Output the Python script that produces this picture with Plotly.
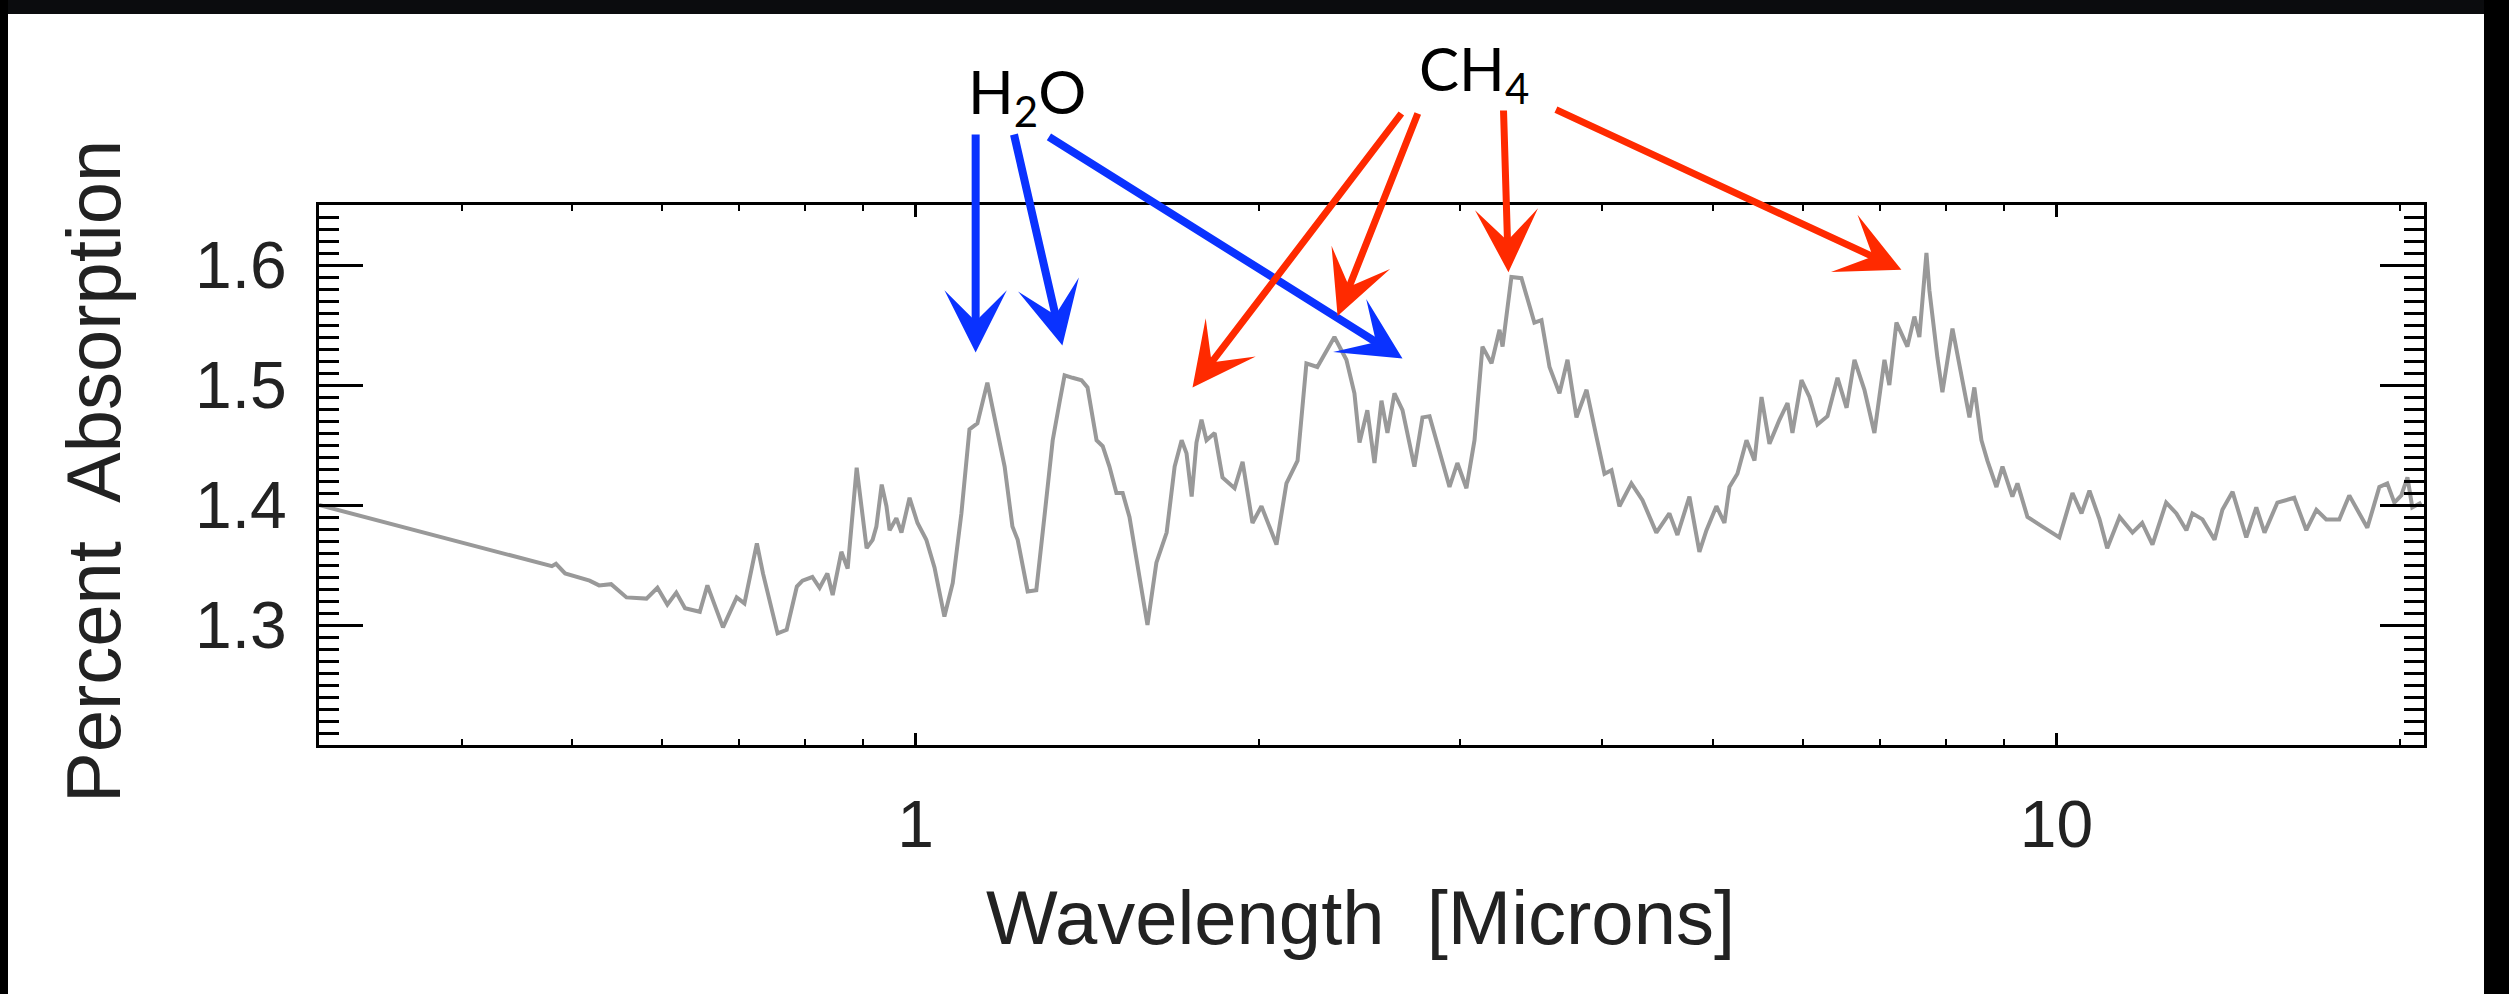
import numpy as np
import plotly.graph_objects as go

# ---------------- data ----------------
wavelength = [
    0.300, 0.468, 0.480, 0.484, 0.493, 0.518, 0.528, 0.541, 0.558, 0.581,
    0.594, 0.606, 0.617, 0.628, 0.647, 0.657, 0.678, 0.697, 0.708, 0.726,
    0.735, 0.757, 0.771, 0.787, 0.796, 0.812, 0.824, 0.837, 0.846, 0.861,
    0.872, 0.888, 0.906, 0.917, 0.924, 0.934, 0.943, 0.949, 0.962, 0.972,
    0.988, 1.004, 1.022, 1.039, 1.060, 1.078, 1.097, 1.115, 1.133, 1.156,
    1.178, 1.197, 1.216, 1.229, 1.254, 1.276, 1.297, 1.319, 1.337, 1.351,
    1.373, 1.398, 1.415, 1.441, 1.459, 1.479, 1.500, 1.519, 1.540, 1.572,
    1.597, 1.626, 1.660, 1.687, 1.711, 1.728, 1.746, 1.763, 1.781, 1.799,
    1.829, 1.858, 1.904, 1.935, 1.974, 2.010, 2.072, 2.114, 2.162, 2.201,
    2.250, 2.329, 2.386, 2.425, 2.450, 2.489, 2.525, 2.561, 2.592, 2.629,
    2.672, 2.737, 2.782, 2.822, 2.879, 2.938, 2.985, 3.040, 3.090, 3.140,
    3.198, 3.250, 3.270, 3.329, 3.397, 3.487, 3.537, 3.595, 3.668, 3.728,
    3.796, 3.874, 3.952, 4.017, 4.074, 4.140, 4.241, 4.337, 4.460, 4.579,
    4.654, 4.768, 4.865, 4.935, 5.035, 5.117, 5.169, 5.253, 5.350, 5.437,
    5.515, 5.604, 5.718, 5.812, 5.870, 5.978, 6.075, 6.174, 6.300, 6.429,
    6.548, 6.653, 6.788, 6.926, 7.068, 7.138, 7.241, 7.403, 7.508, 7.584,
    7.693, 7.739, 7.865, 7.945, 8.108, 8.222, 8.391, 8.474, 8.596, 8.700,
    8.860, 8.969, 9.150, 9.244, 9.433, 9.721, 10.06, 10.33, 10.52, 10.69,
    10.91, 11.08, 11.36, 11.66, 11.89, 12.14, 12.48, 12.74, 13.00, 13.16,
    13.43, 13.76, 13.98, 14.27, 14.67, 14.97, 15.22, 15.62, 16.16, 16.56,
    16.90, 17.24, 17.70, 18.06, 18.43, 18.73, 19.19, 19.50, 19.78, 20.06,
    20.31, 20.51, 20.89,
]
absorption = [
    1.400, 1.352, 1.349, 1.351, 1.343, 1.337, 1.333, 1.334, 1.323, 1.322,
    1.331, 1.317, 1.327, 1.314, 1.311, 1.333, 1.298, 1.323, 1.318, 1.368,
    1.343, 1.293, 1.296, 1.332, 1.337, 1.340, 1.331, 1.343, 1.325, 1.361,
    1.347, 1.431, 1.364, 1.371, 1.382, 1.417, 1.399, 1.379, 1.389, 1.377,
    1.406, 1.385, 1.371, 1.348, 1.307, 1.335, 1.393, 1.463, 1.468, 1.502,
    1.465, 1.432, 1.382, 1.371, 1.328, 1.329, 1.390, 1.454, 1.485, 1.508,
    1.506, 1.504, 1.498, 1.454, 1.449, 1.432, 1.410, 1.410, 1.390, 1.340,
    1.300, 1.352, 1.377, 1.432, 1.454, 1.443, 1.407, 1.452, 1.471, 1.454,
    1.460, 1.423, 1.414, 1.436, 1.385, 1.399, 1.367, 1.418, 1.437, 1.518,
    1.515, 1.540, 1.521, 1.493, 1.452, 1.479, 1.435, 1.487, 1.460, 1.493,
    1.479, 1.432, 1.473, 1.474, 1.446, 1.415, 1.435, 1.414, 1.454, 1.532,
    1.518, 1.546, 1.532, 1.590, 1.589, 1.552, 1.554, 1.515, 1.493, 1.521,
    1.473, 1.496, 1.457, 1.426, 1.429, 1.399, 1.418, 1.404, 1.377, 1.393,
    1.375, 1.407, 1.361, 1.379, 1.399, 1.385, 1.415, 1.426, 1.454, 1.437,
    1.490, 1.451, 1.471, 1.485, 1.460, 1.504, 1.490, 1.467, 1.474, 1.506,
    1.481, 1.521, 1.496, 1.460, 1.521, 1.500, 1.552, 1.532, 1.557, 1.540,
    1.610, 1.579, 1.523, 1.494, 1.547, 1.515, 1.473, 1.498, 1.454, 1.437,
    1.415, 1.432, 1.407, 1.418, 1.390, 1.382, 1.373, 1.410, 1.393, 1.412,
    1.388, 1.364, 1.390, 1.377, 1.385, 1.367, 1.402, 1.393, 1.379, 1.393,
    1.388, 1.371, 1.396, 1.411, 1.373, 1.398, 1.377, 1.402, 1.406, 1.379,
    1.396, 1.388, 1.388, 1.408, 1.393, 1.381, 1.415, 1.418, 1.402, 1.408,
    1.423, 1.398, 1.402,
]

x_tickvals = [1, 10]
x_ticktext = ["1", "10"]
x_minor = [0.4, 0.5, 0.6, 0.7, 0.8, 0.9, 2, 3, 4, 5, 6, 7, 8, 9, 20]
y_tickvals = [1.3, 1.4, 1.5, 1.6]
y_ticktext = ["1.3", "1.4", "1.5", "1.6"]

# arrow annotations (tip wavelength / absorption, tail wavelength / absorption)
h2o_tip_wl = [1.129, 1.345, 2.672]
h2o_tip_ab = [1.527, 1.533, 1.522]
h2o_tail_wl = [1.129, 1.219, 1.305]
h2o_tail_ab = [1.710, 1.710, 1.7075]
ch4_tip_wl = [1.749, 2.344, 3.309, 7.314]
ch4_tip_ab = [1.498, 1.5575, 1.594, 1.596]
ch4_tail_wl = [2.672, 2.759, 3.276, 3.631]
ch4_tail_ab = [1.7275, 1.7275, 1.730, 1.730]

# ---------------- layout geometry ----------------
W, H = 2509, 994
L, R, T, B = 319, 2424, 205, 745


def pxx(xp):
    return (xp - L) / (R - L)


def pxy(yp):
    return (B - yp) / (B - T)


fig = go.Figure()
fig.add_trace(go.Scatter(
    x=wavelength, y=absorption, mode="lines",
    line=dict(color="#999999", width=4), hoverinfo="skip", showlegend=False,
))

annotations = []
for tx, ty, sx, sy in zip(h2o_tip_wl, h2o_tip_ab, h2o_tail_wl, h2o_tail_ab):
    annotations.append(dict(
        x=np.log10(tx), y=ty, ax=np.log10(sx), ay=sy,
        xref="x", yref="y", axref="x", ayref="y", text="",
        showarrow=True, arrowhead=3, arrowsize=1.3, arrowwidth=8,
        arrowcolor="#0a32ff", standoff=0,
    ))
for tx, ty, sx, sy in zip(ch4_tip_wl, ch4_tip_ab, ch4_tail_wl, ch4_tail_ab):
    annotations.append(dict(
        x=np.log10(tx), y=ty, ax=np.log10(sx), ay=sy,
        xref="x", yref="y", axref="x", ayref="y", text="",
        showarrow=True, arrowhead=3, arrowsize=1.5, arrowwidth=7,
        arrowcolor="#ff2a00", standoff=0,
    ))

annotations += [
    dict(x=pxx(1027), y=pxy(96), xref="paper", yref="paper",
         text="H<sub>2</sub>O", showarrow=False,
         font=dict(family="Lato", size=60, color="black"),
         xanchor="center", yanchor="middle"),
    dict(x=pxx(1474), y=pxy(72), xref="paper", yref="paper",
         text="CH<sub>4</sub>", showarrow=False,
         font=dict(family="Lato", size=60, color="black"),
         xanchor="center", yanchor="middle"),
    dict(x=pxx(93), y=pxy(472), xref="paper", yref="paper",
         text="Percent  Absorption", showarrow=False, textangle=-90,
         font=dict(family="Liberation Sans", size=76, color="#222"),
         xanchor="center", yanchor="middle"),
    dict(x=pxx(1360), y=pxy(917), xref="paper", yref="paper",
         text="Wavelength  [Microns]", showarrow=False,
         font=dict(family="Liberation Sans", size=76, color="#222"),
         xanchor="center", yanchor="middle"),
]

shapes = [
    # black frame around the white panel
    dict(type="rect", xref="paper", yref="paper", x0=pxx(0), x1=pxx(W),
         y0=pxy(0), y1=pxy(14), fillcolor="#0b0c0e", line=dict(width=0), layer="above"),
    dict(type="rect", xref="paper", yref="paper", x0=pxx(0), x1=pxx(8),
         y0=pxy(0), y1=pxy(H), fillcolor="black", line=dict(width=0), layer="above"),
    dict(type="rect", xref="paper", yref="paper", x0=pxx(2484), x1=pxx(W),
         y0=pxy(0), y1=pxy(H), fillcolor="black", line=dict(width=0), layer="above"),
]

tickfont = dict(family="Liberation Sans", size=66, color="#222")

fig.update_layout(
    width=W, height=H,
    margin=dict(l=L, r=W - R, t=T, b=H - B, pad=0),
    paper_bgcolor="white", plot_bgcolor="white",
    showlegend=False,
    annotations=annotations, shapes=shapes,
    xaxis=dict(
        type="log", range=[np.log10(0.3), np.log10(21)],
        tickmode="array", tickvals=x_tickvals, ticktext=x_ticktext,
        ticks="inside", ticklen=12, tickwidth=2.5, tickcolor="black",
        showline=True, linecolor="black", linewidth=3, mirror="allticks",
        showgrid=False, zeroline=False, tickfont=tickfont,
        ticklabelstandoff=20,
        minor=dict(tickmode="array", tickvals=x_minor, ticks="inside",
                   ticklen=6, tickwidth=2, tickcolor="black", showgrid=False),
    ),
    yaxis=dict(
        range=[1.2, 1.65],
        tickmode="array", tickvals=y_tickvals, ticktext=y_ticktext,
        ticks="inside", ticklen=44, tickwidth=3, tickcolor="black",
        showline=True, linecolor="black", linewidth=3, mirror="allticks",
        showgrid=False, zeroline=False, tickfont=tickfont,
        ticklabelstandoff=16,
        minor=dict(tick0=1.2, dtick=0.01, ticks="inside", ticklen=20,
                   tickwidth=3, tickcolor="black", showgrid=False),
    ),
)

fig.write_html("out.html")
